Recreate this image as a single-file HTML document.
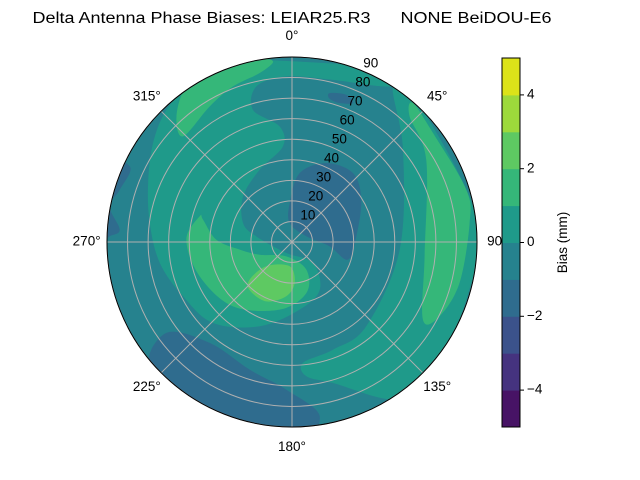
<!DOCTYPE html>
<html><head><meta charset="utf-8"><style>
html,body{margin:0;padding:0;background:#fff;}
svg{display:block;font-family:"Liberation Sans","DejaVu Sans",sans-serif;}
</style></head><body>
<svg id="chart" width="640" height="480" viewBox="0 0 640 480">
<text x="292" y="23" font-size="15.5" text-anchor="middle" textLength="519" lengthAdjust="spacingAndGlyphs" style="white-space:pre" xml:space="preserve">Delta Antenna Phase Biases: LEIAR25.R3      NONE BeiDOU-E6</text>
<defs><clipPath id="disk"><circle cx="292" cy="242" r="185"/></clipPath></defs>
<g id="contours" clip-path="url(#disk)"></g>
<g id="grid"></g>
<g id="cbar"></g>
</svg>
<script>
// colour levels (mm)
const levels = [-5,-4,-3,-2,-1,0,1,2,3,4,5];
const levelColors = ['#471365','#45337f','#3b528b','#2f6c8e','#26828e','#1f9a8a','#35b779','#5ec962','#9dd93b','#dce319'];
const baseLevel = -1;
// contour regions: level bin lower bound + outline points [east, north] in zenith-degree units
const regionLevels = [0, 0, 1, 1, 2, 1, -2, -2, -2, -2];
const regionPoints = [
 [[-17.3,88.7],[52.4,83.8],[49.1,75.7],[19.9,78.9],[-2.8,80.6],[-17.3,75.7],[-19,64.3],[-6,56.2],[-4.4,46.5],[-15.7,35.2],[-23.8,22.2],[-23.8,9.2],[-17.3,2.7],[-2.8,-5.3],[10.2,-10.2],[13.5,-23.2],[3.7,-32.9],[-15.7,-41],[-38.4,-39.4],[-53,-26.4],[-64.3,-10.2],[-69.2,9.2],[-70,28.7],[-67.6,48.1],[-61.1,64.3],[-48.1,78.9],[-31.9,87]],
 [[5.3,-58.8],[19.9,-52.4],[36.1,-41],[52.4,-3.7],[54,44.9],[49.1,75.7],[60.5,69.2],[89.6,12.5],[84.8,-28],[68.6,-60.5],[52.4,-76.7],[19.9,-68.6],[7,-65.3]],
 [[-56.2,61.1],[-51.4,75.7],[-38.4,83.8],[-17.3,88.7],[-9.2,87.8],[-15.7,82.2],[-28.7,75.7],[-40,66],[-53,51.4]],
 [[-44.9,12.5],[-51.4,1.1],[-44.9,-16.7],[-28.7,-31.3],[-6,-32.9],[7,-24.8],[7,-13.5],[-2.8,-7],[-15.7,-6.2],[-25.4,-3.7],[-36.8,1.1],[-43.3,10.9]],
 [[-20.6,-18.3],[-12.5,-11.8],[-1.1,-11.8],[1.3,-19.9],[-2.8,-26.4],[-12.5,-28.9],[-20.6,-23.5]],
 [[58.8,67.6],[68.6,53],[84.8,25.4],[86.4,9.2],[81.5,-19.9],[71.8,-36.1],[63.7,-37.8],[64.5,-7],[65.3,40],[57.2,61.1]],
 [[-1.1,19],[3.7,33.5],[16.7,38.4],[29.7,33.5],[33.7,20.6],[31.3,2.8],[27.2,-8.6],[18.3,-2.1],[7,2.8],[-1.1,9.2]],
 [[18.3,72.4],[26.4,71.6],[29.7,67.6],[23.2,67.6],[18.3,69.7]],
 [[-95,40],[-78.9,36.8],[-83.8,25.4],[-88.7,17.3],[-83.8,6],[-88.7,2.8],[-95,0]],
 [[-61.1,-44.2],[-40,-49.1],[-20.6,-62.1],[-2.8,-71.8],[13.5,-84.8],[0.5,-97.7],[-44.9,-84.8],[-69.2,-62.1]]
];
const ringValues = [10,20,30,40,50,60,70,80,90];
const spokeAngles = [0,45,90,135,180,225,270,315];
const cbarTicks = [-4,-2,0,2,4];

const NS='http://www.w3.org/2000/svg';
const cx=292, cy=242, R=185, zMax=90;
const rScale = z => z/zMax*R;
const px = (e,n) => [cx + rScale(e), cy - rScale(n)];
const polar = (az,z) => px(z*Math.sin(az*Math.PI/180), z*Math.cos(az*Math.PI/180));
const colorOf = lv => levelColors[levels.indexOf(lv)];
function mk(tag, attrs, parent){const el=document.createElementNS(NS,tag);for(const k in attrs)el.setAttribute(k,attrs[k]);parent.appendChild(el);return el;}
function smooth(pts){
  const p=pts.map(q=>px(q[0],q[1])), n=p.length; let d=`M${p[0][0]},${p[0][1]}`;
  for(let i=0;i<n;i++){const p0=p[(i-1+n)%n],p1=p[i],p2=p[(i+1)%n],p3=p[(i+2)%n];
    d+=`C${p1[0]+(p2[0]-p0[0])/6},${p1[1]+(p2[1]-p0[1])/6} ${p2[0]-(p3[0]-p1[0])/6},${p2[1]-(p3[1]-p1[1])/6} ${p2[0]},${p2[1]}`;}
  return d+'Z';
}
const cg=document.getElementById('contours');
const base=mk('circle',{cx,cy,r:R,fill:colorOf(baseLevel)},cg);


regionPoints.forEach((pts,i)=>{
  const el=mk('path',{d:smooth(pts),fill:colorOf(regionLevels[i])},cg);
  
  
});
const gg=document.getElementById('grid');
ringValues.forEach(v=>{
  const c=mk('circle',{cx,cy,r:rScale(v),fill:'none',stroke:'#b0b0b0','stroke-width':1},gg);
  
  
  const [x,y]=polar(22.5,v);
  const t=mk('text',{x:x+8,y:y-7,'font-size':13.5,'text-anchor':'middle','dominant-baseline':'middle'},gg);
  t.textContent=v;
  
  
});
spokeAngles.forEach(a=>{
  const [x,y]=polar(a,zMax);
  const l=mk('line',{x1:cx,y1:cy,x2:x,y2:y,stroke:'#b0b0b0','stroke-width':1},gg);
  
  
  const [tx,ty]=polar(a,zMax*1.11);
  const t=mk('text',{x:tx,y:ty,'font-size':13.5,'text-anchor':'middle','dominant-baseline':'middle'},gg);
  t.textContent=a+'°';
  
  
});
const edge=mk('circle',{cx,cy,r:R,fill:'none',stroke:'#000','stroke-width':1},gg);


// colorbar
const cb=document.getElementById('cbar');
const cbX=502, cbW=18, cbTop=58, cbBot=427;
const cbY = v => cbBot - (v-levels[0])/(levels[levels.length-1]-levels[0])*(cbBot-cbTop);
for(let i=0;i<levelColors.length;i++){
  const r=mk('rect',{x:cbX,y:cbY(levels[i+1]),width:cbW,height:cbY(levels[i])-cbY(levels[i+1])+0.5,fill:levelColors[i]},cb);
  
  
}
const fr=mk('rect',{x:cbX,y:cbTop,width:cbW,height:cbBot-cbTop,fill:'none',stroke:'#000','stroke-width':1},cb);


cbarTicks.forEach(v=>{
  const y=cbY(v);
  const l=mk('line',{x1:cbX+cbW,y1:y,x2:cbX+cbW+4,y2:y,stroke:'#000'},cb);
  
  
  const t=mk('text',{x:cbX+cbW+7,y:y,'font-size':13.5,'dominant-baseline':'middle'},cb);
  t.textContent=v<0?'\u2212'+Math.abs(v):String(v);
  
  
});
const ct=mk('text',{x:0,y:0,'font-size':13.5,'text-anchor':'middle',transform:`translate(567,${(cbTop+cbBot)/2}) rotate(-90)`},cb);
ct.textContent='Bias (mm)';


</script>
</body></html>
